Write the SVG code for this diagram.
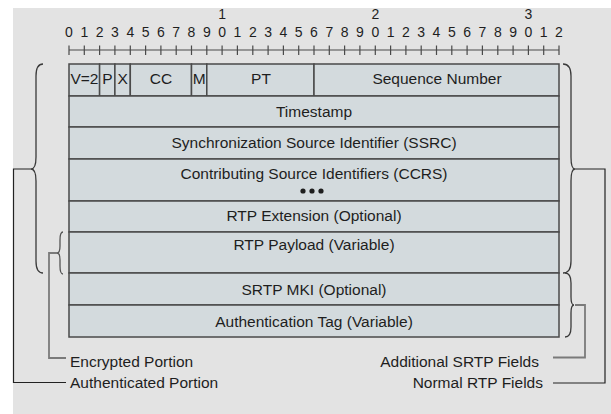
<svg xmlns="http://www.w3.org/2000/svg" width="611" height="414" viewBox="0 0 611 414">
<style>
.bg{fill:#e3e3e3}
.cell{fill:#d3dadd;stroke:#4a4a4a;stroke-width:1.5}
.t{font-family:"Liberation Sans",Arial,sans-serif;font-size:15.5px;fill:#1e1e1e;text-anchor:middle}
.lbl{font-family:"Liberation Sans",Arial,sans-serif;font-size:15.5px;fill:#1e1e1e}
.d{font-family:"Liberation Sans",Arial,sans-serif;font-size:14px;fill:#1e1e1e;text-anchor:middle}
.rul{stroke:#4a4a4a;stroke-width:1.2;fill:none}
.brace{fill:none;stroke:#3a3a3a;stroke-width:1.3}
.brace2{fill:none;stroke:#555;stroke-width:1.3}
.dark{fill:none;stroke:#222;stroke-width:1.2}
.gray{fill:none;stroke:#7a7a7a;stroke-width:1.8}
</style>
<rect x="0" y="0" width="611" height="414" fill="#ffffff"/>
<rect class="bg" x="13" y="8" width="598" height="406"/>
<g id="ruler">
<line class="rul" x1="69" y1="50" x2="559" y2="50"/>
<path class="rul" d="M69,45.5V55 M84.3,45.5V55 M99.6,45.5V55 M114.9,45.5V55 M130.3,45.5V55 M145.6,45.5V55 M160.9,45.5V55 M176.2,45.5V55 M191.5,45.5V55 M206.8,45.5V55 M222.1,45.5V55 M237.4,45.5V55 M252.8,45.5V55 M268.1,45.5V55 M283.4,45.5V55 M298.7,45.5V55 M314,45.5V55 M329.3,45.5V55 M344.6,45.5V55 M359.9,45.5V55 M375.3,45.5V55 M390.6,45.5V55 M405.9,45.5V55 M421.2,45.5V55 M436.5,45.5V55 M451.8,45.5V55 M467.1,45.5V55 M482.4,45.5V55 M497.8,45.5V55 M513.1,45.5V55 M528.4,45.5V55 M543.7,45.5V55 M559,45.5V55"/>
<text class="d" x="222.1" y="19">1</text>
<text class="d" x="375.3" y="19">2</text>
<text class="d" x="528.4" y="19">3</text>
<text class="d" x="69" y="37">0</text>
<text class="d" x="84.3" y="37">1</text>
<text class="d" x="99.6" y="37">2</text>
<text class="d" x="114.9" y="37">3</text>
<text class="d" x="130.3" y="37">4</text>
<text class="d" x="145.6" y="37">5</text>
<text class="d" x="160.9" y="37">6</text>
<text class="d" x="176.2" y="37">7</text>
<text class="d" x="191.5" y="37">8</text>
<text class="d" x="206.8" y="37">9</text>
<text class="d" x="222.1" y="37">0</text>
<text class="d" x="237.4" y="37">1</text>
<text class="d" x="252.8" y="37">2</text>
<text class="d" x="268.1" y="37">3</text>
<text class="d" x="283.4" y="37">4</text>
<text class="d" x="298.7" y="37">5</text>
<text class="d" x="314" y="37">6</text>
<text class="d" x="329.3" y="37">7</text>
<text class="d" x="344.6" y="37">8</text>
<text class="d" x="359.9" y="37">9</text>
<text class="d" x="375.3" y="37">0</text>
<text class="d" x="390.6" y="37">1</text>
<text class="d" x="405.9" y="37">2</text>
<text class="d" x="421.2" y="37">3</text>
<text class="d" x="436.5" y="37">4</text>
<text class="d" x="451.8" y="37">5</text>
<text class="d" x="467.1" y="37">6</text>
<text class="d" x="482.4" y="37">7</text>
<text class="d" x="497.8" y="37">8</text>
<text class="d" x="513.1" y="37">9</text>
<text class="d" x="528.4" y="37">0</text>
<text class="d" x="543.7" y="37">1</text>
<text class="d" x="559" y="37">2</text>
</g>
<g id="version"><rect class="cell" x="69" y="64" width="30.6" height="32"/><text class="t" x="84.5" y="84">V=2</text></g>
<g id="padding"><rect class="cell" x="99.6" y="64" width="15.3" height="32"/><text class="t" x="107.3" y="84">P</text></g>
<g id="extension"><rect class="cell" x="114.9" y="64" width="15.4" height="32"/><text class="t" x="122.6" y="84">X</text></g>
<g id="cc"><rect class="cell" x="130.3" y="64" width="61.2" height="32"/><text class="t" x="161" y="84">CC</text></g>
<g id="marker"><rect class="cell" x="191.5" y="64" width="15.3" height="32"/><text class="t" x="199.2" y="84">M</text></g>
<g id="pt"><rect class="cell" x="206.8" y="64" width="107.2" height="32"/><text class="t" x="261" y="84">PT</text></g>
<g id="seq"><rect class="cell" x="314" y="64" width="245" height="32"/><text class="t" x="437" y="84">Sequence Number</text></g>
<g id="timestamp"><rect class="cell" x="69" y="96" width="490" height="31"/><text class="t" x="314" y="116.5">Timestamp</text></g>
<g id="ssrc"><rect class="cell" x="69" y="127" width="490" height="32"/><text class="t" x="314" y="147.5">Synchronization Source Identifier (SSRC)</text></g>
<g id="csrc"><rect class="cell" x="69" y="159" width="490" height="42"/><text class="t" x="314" y="178.5">Contributing Source Identifiers (CCRS)</text>
<circle cx="303" cy="191" r="2.6" fill="#1e1e1e"/><circle cx="312" cy="191" r="2.6" fill="#1e1e1e"/><circle cx="321" cy="191" r="2.6" fill="#1e1e1e"/></g>
<g id="rtpext"><rect class="cell" x="69" y="201" width="490" height="31"/><text class="t" x="314" y="221">RTP Extension (Optional)</text></g>
<g id="payload"><rect class="cell" x="69" y="232" width="490" height="41"/><text class="t" x="314" y="249.5">RTP Payload (Variable)</text></g>
<g id="mki"><rect class="cell" x="69" y="273" width="490" height="32"/><text class="t" x="314" y="295">SRTP MKI (Optional)</text></g>
<g id="authtag"><rect class="cell" x="69" y="305" width="490" height="32"/><text class="t" x="314" y="326.5">Authentication Tag (Variable)</text></g>
<g id="braces">
<path class="brace" d="M43,64 Q36,64 36,76 L36,157 Q36,169 31,169 Q36,169 36,181 L36,261 Q36,273 43,273"/>
<path class="brace2" d="M63,232 Q60,232 60,240 L60,246 Q60,253 57,253 Q60,253 60,260 L60,266 Q60,274 63,274"/>
<path class="brace" d="M563,64 Q571,64 571,76 L571,157 Q571,169 575,169 Q571,169 571,181 L571,261 Q571,273 563,273"/>
<path class="brace" d="M565,273 Q571,273 571,283 L571,297 Q571,305 574,305 Q571,305 571,313 L571,327 Q571,337 565,337"/>
</g>
<g id="connectors">
<polyline class="gray" points="57,253 49,253 49,358 66,358"/>
<polyline class="dark" points="31,169 13.5,169 13.5,382.5 66,382.5"/>
<polyline class="gray" points="575,305 585,305 585,357.5 553,357.5"/>
<polyline class="dark" points="575,169 605,169 605,383 553,383"/>
</g>
<g id="labels">
<text class="lbl" x="70" y="367">Encrypted Portion</text>
<text class="lbl" x="70" y="388">Authenticated Portion</text>
<text class="lbl" x="539" y="366.5" text-anchor="end">Additional SRTP Fields</text>
<text class="lbl" x="543" y="388" text-anchor="end">Normal RTP Fields</text>
</g>
</svg>
